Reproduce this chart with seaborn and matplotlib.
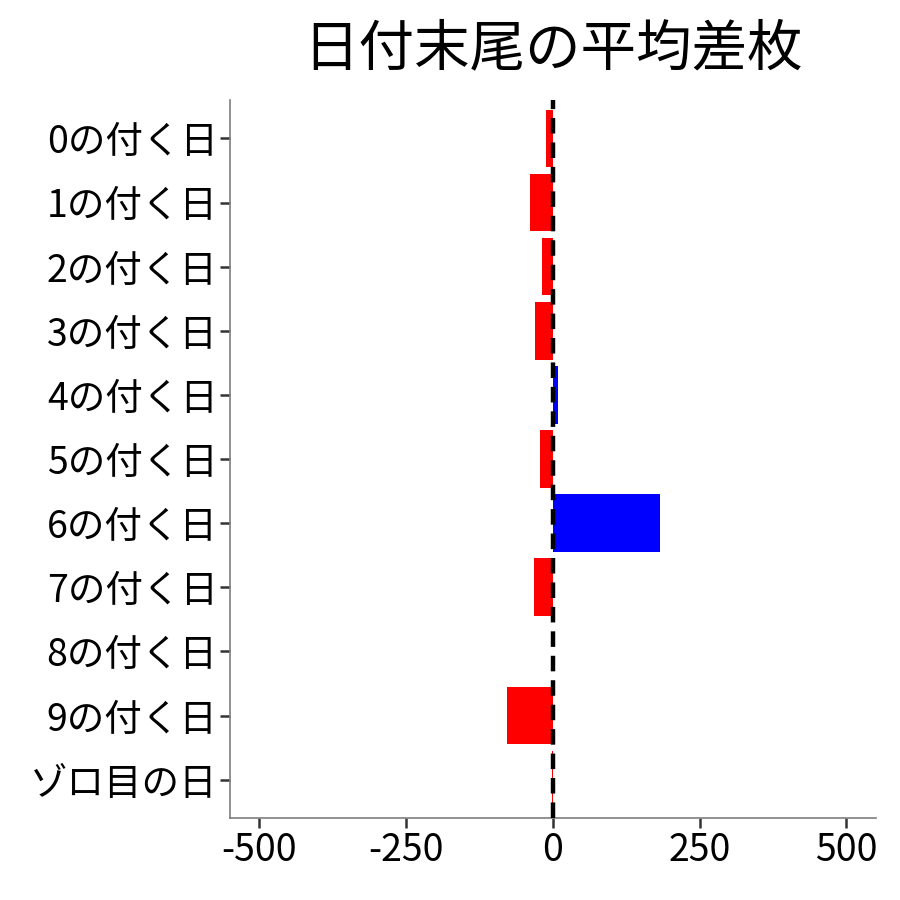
import pandas as pd
import matplotlib.pyplot as plt
import seaborn as sns

# data
days = ['0の付く日', '1の付く日', '2の付く日', '3の付く日', '4の付く日',
        '5の付く日', '6の付く日', '7の付く日', '8の付く日', '9の付く日', 'ゾロ目の日']
diff = [-12, -39, -19, -31, 8, -22, 182, -32, 1, -78, -1]
xticks = [-500, -250, 0, 250, 500]

df = pd.DataFrame({'day': days, 'diff': diff})
df['sign'] = ['plus' if v > 0 else 'minus' for v in df['diff']]

sns.set_style('white')
plt.rcParams['font.family'] = ['Noto Sans CJK JP', 'DejaVu Sans']
plt.rcParams['text.color'] = 'black'

fig = plt.figure(figsize=(9, 9), dpi=100)
ax = fig.add_axes([0.2556, 0.091, 0.7174, 0.798])

sns.barplot(data=df, x='diff', y='day', hue='sign', order=days,
            palette={'plus': '#0000ff', 'minus': '#ff0000'},
            width=0.9, dodge=False, legend=False, saturation=1,
            edgecolor='none', linewidth=0, ax=ax)

# dashed zero line
ax.axvline(0, color='black', linestyle=(0, (3.5, 2)), linewidth=3.2, zorder=5)

ax.set_xlim(-550, 550)
ax.set_ylim(len(days) - 0.4, -0.6)
ax.set_xticks(xticks)
ax.set_xticklabels([str(t) for t in xticks])
ax.set_xlabel('')
ax.set_ylabel('')
ax.set_title('日付末尾の平均差枚', fontsize=40, pad=25, color='black')

for side in ['top', 'right']:
    ax.spines[side].set_visible(False)
for side in ['left', 'bottom']:
    ax.spines[side].set_color('#7f7f7f')
    ax.spines[side].set_linewidth(1.2)

ax.tick_params(axis='both', which='major', labelsize=27, length=7, width=1.8,
               color='#333333', labelcolor='black', pad=2,
               left=True, bottom=True)

fig.savefig('out.png', dpi=100)
